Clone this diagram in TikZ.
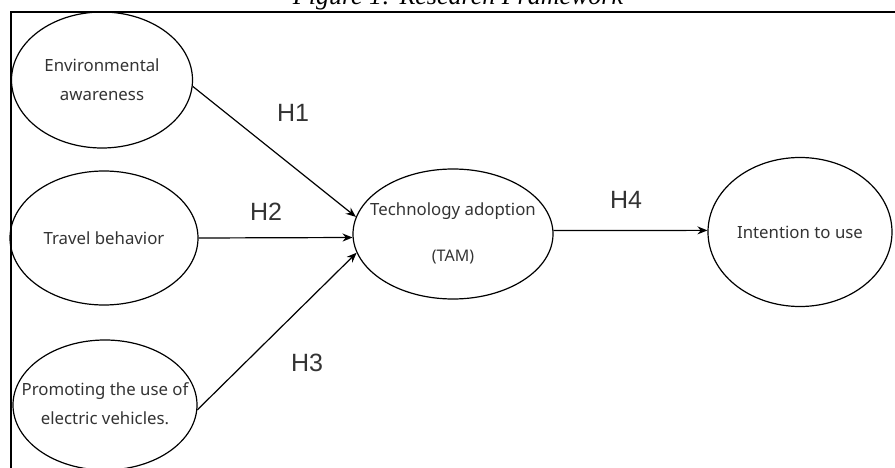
\documentclass[tikz,border=0pt]{standalone}
\usepackage{fontspec}
\setmainfont{Liberation Serif}
\newfontfamily\ellfont{Noto Sans}
\newfontfamily\hfont{Liberation Sans}
\usetikzlibrary{shapes.geometric,arrows.meta}
\definecolor{txt}{HTML}{333333}
\tikzset{
  oval/.style={ellipse, draw=black, line width=1.2pt, inner sep=0pt},
  ovaltext/.style={font=\ellfont\fontsize{16.8}{29}\selectfont, text=txt, align=center, inner sep=0pt},
  conn/.style={draw=black, line width=1.2pt, -{Stealth[length=10pt,width=8pt]}},
  hyp/.style={font=\hfont\fontsize{25}{28}\selectfont, text=txt},
  frameline/.style={line width=2pt, draw=black}
}
\begin{document}
\begin{tikzpicture}[x=1pt,y=-1pt]
\useasboundingbox (0,0) rectangle (895,468);
\clip (0,0) rectangle (895,468);
% caption (cut off at top)
\node[anchor=base, font=\itshape\fontsize{26}{30}\selectfont, inner sep=0pt] (cap) at (458,4.5) {Figure 1: Research Framework};
% frame
\coordinate (ftl) at (11,12);
\coordinate (ftr) at (897,12);
\coordinate (fbl) at (11,470);
\draw[frameline] (fbl) -- (ftl) -- (ftr);
% ellipses
\node[oval, minimum width=181pt, minimum height=136pt] (env) at (102,80) {};
\node[oval, minimum width=188pt, minimum height=134pt] (trav) at (104,238) {};
\node[oval, minimum width=184pt, minimum height=130pt] (prom) at (105,405) {};
\node[oval, minimum width=200pt, minimum height=130pt] (tech) at (453,234) {};
\node[oval, minimum width=184pt, minimum height=149pt] (intent) at (800,232) {};
% texts
\node[ovaltext] (envt) at (env.center) {Environmental\\awareness};
\node[ovaltext] (travt) at (trav.center) {Travel behavior};
\node[ovaltext] (promt) at ([yshift=1pt]prom.center) {Promoting the use of\\electric vehicles.};
\node[ovaltext, anchor=base] (techt1) at (453,215) {Technology adoption};
\node[ovaltext, anchor=base, font=\ellfont\fontsize{16}{20}\selectfont] (techt2) at (453,261) {(TAM)};
\node[ovaltext] (intentt) at (intent.center) {Intention to use};
% connectors
\draw[conn] (env.-4) -- (tech.170);
\draw[conn] (trav.0) -- (tech.182);
\draw[conn] (prom.-3) -- (tech.191);
\draw[conn] (tech.2) -- (intent.179);
% labels
\node[hyp] (h1) at (293,113) {H1};
\node[hyp] (h2) at (266,212) {H2};
\node[hyp] (h3) at (307,363) {H3};
\node[hyp] (h4) at (626,200) {H4};
\end{tikzpicture}
\end{document}
